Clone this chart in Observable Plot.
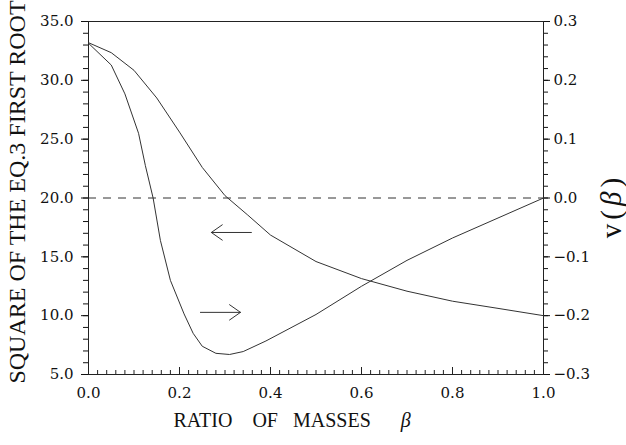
<!DOCTYPE html>
<html><head><meta charset="utf-8">
<script src="https://cdn.jsdelivr.net/npm/d3@7"></script>
<script src="https://cdn.jsdelivr.net/npm/@observablehq/plot@0.6"></script>
<style>
html,body{margin:0;padding:0;background:#fff;}
</style>
</head><body><div id="chart"></div>
<script>
// Curve read against the LEFT axis: square of the Eq.3 first root
const betaRoot = [0, 0.05, 0.1, 0.15, 0.2, 0.25, 0.3, 0.35, 0.4, 0.5, 0.6, 0.7, 0.8, 0.9, 1.0];
const rootSquared = [33.2, 32.35, 30.85, 28.5, 25.6, 22.6, 20.2, 18.55, 16.85, 14.6, 13.15, 12.08, 11.23, 10.62, 10.0];
// Curve read against the RIGHT axis: v(beta)
const betaV = [0, 0.05, 0.08, 0.11, 0.125, 0.142, 0.158, 0.18, 0.21, 0.23, 0.25, 0.28, 0.31, 0.34, 0.39, 0.5, 0.6, 0.7, 0.8, 0.9, 1.0];
const vBeta = [0.263, 0.226, 0.177, 0.110, 0.055, 0.0, -0.072, -0.140, -0.197, -0.230, -0.252, -0.264, -0.266, -0.261, -0.243, -0.198, -0.150, -0.106, -0.068, -0.034, 0.0];
// Tick labels
const xTicks = [0, 0.2, 0.4, 0.6, 0.8, 1.0];
const leftTicks = [5, 10, 15, 20, 25, 30, 35];
const rightTicks = [-0.3, -0.2, -0.1, 0.0, 0.1, 0.2, 0.3];
// Annotation arrows (left arrow -> left axis curve, right arrow -> right axis curve)
const arrowFrom = [0.358, 0.246];
const arrowTo = [0.270, 0.334];
const arrowLevel = [17.07, 10.28];
// Titles
const xTitle = "RATIO\u00a0\u00a0\u00a0\u00a0OF\u00a0\u00a0\u00a0MASSES\u00a0\u00a0\u00a0\u00a0\u00a0\u00a0β";
const yTitle = "SQUARE OF THE EQ.3 FIRST ROOT";
const y2Title = "v(β)";

// right axis (v) mapped onto the left axis scale: v=-0.3 -> 5, v=0.3 -> 35
const toLeft = v => 20 + 50 * v;
const fmtV = v => { const a = Math.abs(v) < 1e-9 ? 0 : v; const s = Math.abs(a).toFixed(1); return a < 0 ? "\u2212" + s : s; };

const rootData = betaRoot.map((b, i) => ({b, y: rootSquared[i]}));
const vData = betaV.map((b, i) => ({b, y: toLeft(vBeta[i])}));
const arrows = arrowFrom.map((x1, i) => ({x1, x2: arrowTo[i], y: arrowLevel[i]}));

const W = 626, H = 445, mL = 88, mR = 83, mT = 21, mB = 71;
const plotH = H - mT - mB;
const serif = "DejaVu Serif";
const titleSerif = "Liberation Serif";
const ink = "#111";
const lineInk = "#333";
const tickFont = {fontFamily: serif, fontSize: 15};

const chart = Plot.plot({
  width: W, height: H,
  marginLeft: mL, marginRight: mR, marginTop: mT, marginBottom: mB,
  style: {fontFamily: serif, fontSize: "15px", color: ink, background: "#fff", overflow: "visible"},
  x: {domain: [0, 1]},
  y: {domain: [5, 35]},
  marks: [
    Plot.ruleY([20], {stroke: lineInk, strokeDasharray: "8,7"}),
    Plot.frame({stroke: "#222"}),
    Plot.ruleX(d3.range(0, 1.0001, 0.02), {insetTop: plotH - 4, stroke: "#222"}),
    Plot.ruleX(xTicks, {insetTop: plotH - 7, stroke: "#222"}),
    Plot.axisX(xTicks, {tickSize: 0, tickPadding: 13, tickFormat: d => d.toFixed(1), label: null, ...tickFont}),
    Plot.axisY(d3.range(5, 35.01, 1), {anchor: "left", tickSize: 5, tickFormat: () => "", label: null}),
    Plot.axisY(leftTicks, {anchor: "left", tickSize: 7, tickPadding: 8, tickFormat: d => d.toFixed(1), label: null, ...tickFont}),
    Plot.axisY(d3.range(-0.3, 0.3001, 0.02).map(toLeft), {anchor: "right", tickSize: 4, tickFormat: () => "", label: null}),
    Plot.axisY(rightTicks.map(toLeft), {anchor: "right", tickSize: 6, tickPadding: 4, tickFormat: y => fmtV((y - 20) / 50), label: null, ...tickFont}),
    Plot.line(rootData, {x: "b", y: "y", stroke: lineInk, strokeWidth: 1}),
    Plot.line(vData, {x: "b", y: "y", stroke: lineInk, strokeWidth: 1}),
    Plot.arrow(arrows, {x1: "x1", x2: "x2", y1: "y", y2: "y", headLength: 20, headAngle: 70, stroke: lineInk, strokeWidth: 1}),
    Plot.text([xTitle], {frameAnchor: "bottom-left", dx: 85, dy: 52.5, textAnchor: "start", fontSize: 20, fontFamily: titleSerif, fill: ink}),
    Plot.text([yTitle], {frameAnchor: "left", dx: -71, dy: -6, rotate: -90, textAnchor: "middle", fontSize: 24, fontFamily: titleSerif, fill: ink}),
    Plot.text([y2Title], {frameAnchor: "right", dx: 68, dy: 8, rotate: -90, textAnchor: "middle", fontSize: 29, fontFamily: titleSerif, fill: ink})
  ]
});

// italic beta in titles
d3.select(chart).selectAll("text").each(function () {
  const t = this.textContent;
  if (!t.includes("β") || this.children.length) return;
  const parts = t.split("β");
  const sel = d3.select(this);
  sel.text(null);
  sel.append("tspan").text(parts[0]);
  sel.append("tspan").attr("font-style", "italic").text("β");
  if (parts[1]) sel.append("tspan").text(parts[1]);
  if (t === y2Title) sel.style("letter-spacing", "4px");
});

document.getElementById("chart").appendChild(chart);
</script>
</body></html>
